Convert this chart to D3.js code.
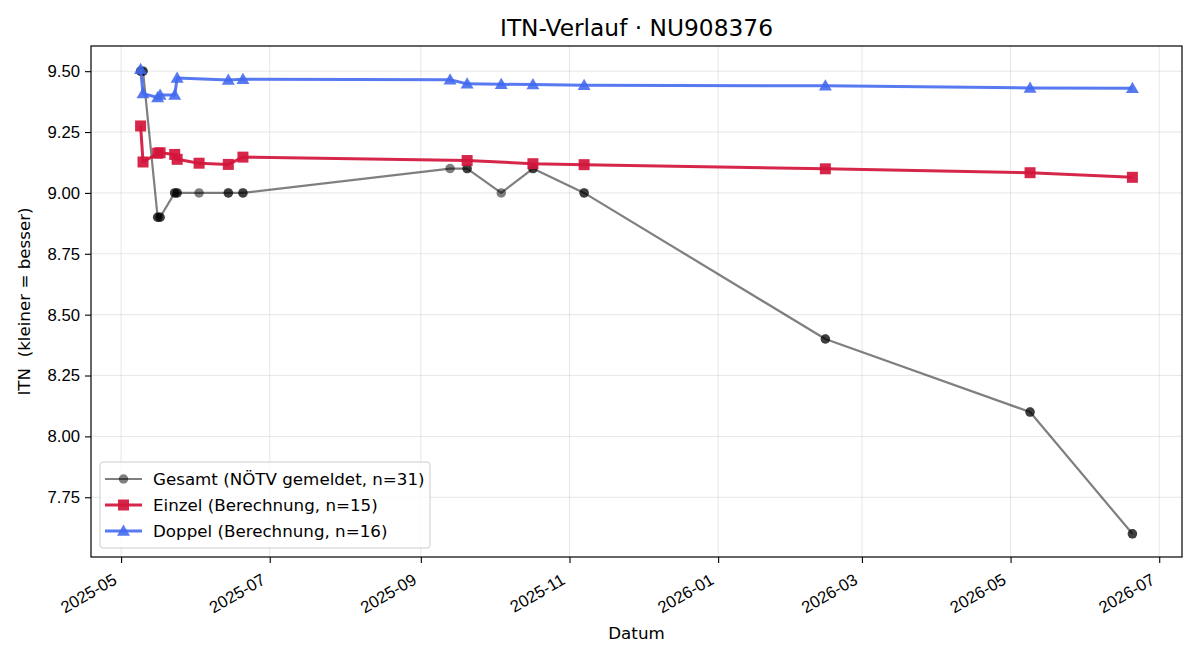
<!DOCTYPE html>
<html>
<head>
<meta charset="utf-8">
<script src="https://cdn.jsdelivr.net/npm/d3@7"></script>
<style>
  body { margin: 0; background: #fff; }
  svg { font-family: "DejaVu Sans", sans-serif; }
</style>
</head>
<body>
<svg id="chart" width="1200" height="660"></svg>
<script>
// Gesamt (NÖTV gemeldet) - one entry per match
var gesamtDates = [
  "2025-05-09", "2025-05-09", "2025-05-10", "2025-05-10",
  "2025-05-16", "2025-05-16", "2025-05-17", "2025-05-17",
  "2025-05-23", "2025-05-23", "2025-05-24", "2025-05-24",
  "2025-06-02", "2025-06-14", "2025-06-14", "2025-06-20", "2025-06-20",
  "2025-09-13", "2025-09-20", "2025-09-20", "2025-10-04",
  "2025-10-17", "2025-10-17", "2025-11-07", "2025-11-07",
  "2026-02-14", "2026-02-14", "2026-05-09", "2026-05-09",
  "2026-06-20", "2026-06-20"
];
var gesamtValues = [
  9.50, 9.50, 9.50, 9.50,
  8.90, 8.90, 8.90, 8.90,
  9.00, 9.00, 9.00, 9.00,
  9.00, 9.00, 9.00, 9.00, 9.00,
  9.10, 9.10, 9.10, 9.00,
  9.10, 9.10, 9.00, 9.00,
  8.40, 8.40, 8.10, 8.10,
  7.60, 7.60
];

var einzelDates = [
  "2025-05-09", "2025-05-10", "2025-05-16", "2025-05-17", "2025-05-23",
  "2025-05-24", "2025-06-02", "2025-06-14", "2025-06-20", "2025-09-20",
  "2025-10-17", "2025-11-07", "2026-02-14", "2026-05-09", "2026-06-20"
];
var einzelValues = [
  9.275, 9.127, 9.163, 9.165, 9.158,
  9.138, 9.122, 9.117, 9.147, 9.133,
  9.120, 9.116, 9.099, 9.083, 9.064
];

var doppelDates = [
  "2025-05-09", "2025-05-10", "2025-05-16", "2025-05-17", "2025-05-23",
  "2025-05-24", "2025-06-14", "2025-06-20", "2025-09-13", "2025-09-20",
  "2025-10-04", "2025-10-17", "2025-11-07", "2026-02-14", "2026-05-09",
  "2026-06-20"
];
var doppelValues = [
  9.508, 9.408, 9.392, 9.402, 9.402,
  9.472, 9.464, 9.467, 9.465, 9.448,
  9.446, 9.445, 9.442, 9.440, 9.431,
  9.430
];

var yTicks = [7.75, 8.00, 8.25, 8.50, 8.75, 9.00, 9.25, 9.50];

var parse = d3.utcParse("%Y-%m-%d");
function zip(dates, values) {
  return dates.map(function(d, i) { return { date: parse(d), value: values[i] }; });
}

var series = [
  { name: "Gesamt (NÖTV gemeldet, n=31)", data: zip(gesamtDates, gesamtValues),
    color: "#000", opacity: 0.5, width: 2.2, marker: "circle", size: 9.5 },
  { name: "Einzel (Berechnung, n=15)", data: zip(einzelDates, einzelValues),
    color: "#d2153c", opacity: 0.92, width: 3, marker: "square", size: 11 },
  { name: "Doppel (Berechnung, n=16)", data: zip(doppelDates, doppelValues),
    color: "#4168ef", opacity: 0.88, width: 3, marker: "triangle", size: 11 }
];

var FS = 16.7;
var margin = { top: 46, right: 18, bottom: 103, left: 91 };
var width = 1200 - margin.left - margin.right;
var height = 660 - margin.top - margin.bottom;

var svg = d3.select("#chart");
var g = svg.append("g").attr("transform", "translate(" + margin.left + "," + margin.top + ")");

// domains padded 5% like matplotlib
var all = [];
series.forEach(function(s) { all = all.concat(s.data); });
var xExt = d3.extent(all, function(d) { return d.date; });
var xPad = (xExt[1] - xExt[0]) * 0.05;
var yExt = d3.extent(all, function(d) { return d.value; });
var yPad = (yExt[1] - yExt[0]) * 0.05;

var x = d3.scaleUtc()
  .domain([new Date(+xExt[0] - xPad), new Date(+xExt[1] + xPad)])
  .range([0, width]);
var y = d3.scaleLinear()
  .domain([yExt[0] - yPad, yExt[1] + yPad])
  .range([height, 0]);

var xTicks = x.ticks(d3.utcMonth.every(2));

// grid
g.append("g").selectAll("line").data(xTicks).enter().append("line")
  .attr("x1", function(d) { return x(d); }).attr("x2", function(d) { return x(d); })
  .attr("y1", 0).attr("y2", height)
  .attr("stroke", "#b0b0b0").attr("stroke-opacity", 0.3).attr("stroke-width", 1);
g.append("g").selectAll("line").data(yTicks).enter().append("line")
  .attr("x1", 0).attr("x2", width)
  .attr("y1", function(d) { return y(d); }).attr("y2", function(d) { return y(d); })
  .attr("stroke", "#b0b0b0").attr("stroke-opacity", 0.3).attr("stroke-width", 1);

// axes
var xAxis = g.append("g")
  .attr("transform", "translate(0," + height + ")")
  .call(d3.axisBottom(x).tickValues(xTicks).tickFormat(d3.utcFormat("%Y-%m")).tickSizeOuter(0).tickSize(6).tickPadding(6));
// rotated labels, right edge of rotated box at the tick (like autofmt_xdate)
xAxis.selectAll(".tick text")
  .attr("font-size", FS).attr("fill", "#000")
  .attr("text-anchor", "end")
  .attr("x", 0).attr("y", 0).attr("dy", "0.76em")
  .attr("transform", "translate(-10,15) rotate(-30)");

var yAxis = g.append("g")
  .call(d3.axisLeft(y).tickValues(yTicks).tickFormat(d3.format(".2f")).tickSizeOuter(0).tickSize(6).tickPadding(5));
yAxis.selectAll("text").attr("font-size", FS).attr("fill", "#000");

[xAxis, yAxis].forEach(function(a) {
  a.select(".domain").remove();
  a.selectAll(".tick line").attr("stroke", "#000").attr("stroke-width", 1.1);
});

g.append("rect")
  .attr("width", width).attr("height", height)
  .attr("fill", "none").attr("stroke", "#000").attr("stroke-width", 1.2);

// symbols
var symType = { circle: d3.symbolCircle, square: d3.symbolSquare, triangle: d3.symbolTriangle };
function symbolPath(s) {
  var area;
  if (s.marker === "circle") area = Math.PI * (s.size / 2) * (s.size / 2);
  else if (s.marker === "square") area = s.size * s.size;
  else area = s.size * s.size * 0.6;
  return d3.symbol().type(symType[s.marker]).size(area)();
}

var line = d3.line()
  .x(function(d) { return x(d.date); })
  .y(function(d) { return y(d.value); });

series.forEach(function(s) {
  var sg = g.append("g");
  sg.append("path")
    .datum(s.data)
    .attr("d", line)
    .attr("fill", "none")
    .attr("stroke", s.color)
    .attr("stroke-opacity", s.opacity)
    .attr("stroke-width", s.width)
    .attr("stroke-linejoin", "round");
  sg.selectAll(".pt").data(s.data).enter().append("path")
    .attr("class", "pt")
    .attr("d", symbolPath(s))
    .attr("transform", function(d) {
      var dy = s.marker === "triangle" ? 1 : 0;
      return "translate(" + x(d.date) + "," + (y(d.value) + dy) + ")";
    })
    .attr("fill", s.color)
    .attr("fill-opacity", s.opacity);
});

// legend
var lg = g.append("g").attr("transform", "translate(9," + (height - 95) + ")");
lg.append("rect")
  .attr("width", 330).attr("height", 86).attr("rx", 3)
  .attr("fill", "#fff").attr("fill-opacity", 0.8)
  .attr("stroke", "#cccccc").attr("stroke-width", 1);
series.forEach(function(s, i) {
  var yy = 17 + i * 26;
  lg.append("line")
    .attr("x1", 5).attr("x2", 42).attr("y1", yy).attr("y2", yy)
    .attr("stroke", s.color).attr("stroke-opacity", s.opacity).attr("stroke-width", s.width);
  lg.append("path")
    .attr("d", symbolPath(s))
    .attr("transform", "translate(23.5," + (yy + (s.marker === "triangle" ? 1 : 0)) + ")")
    .attr("fill", s.color).attr("fill-opacity", s.opacity);
  lg.append("text")
    .attr("x", 53).attr("y", yy).attr("dy", "0.35em")
    .attr("font-size", FS).attr("fill", "#000")
    .text(s.name);
});

// titles
svg.append("text")
  .attr("x", margin.left + width / 2).attr("y", 36)
  .attr("text-anchor", "middle").attr("font-size", 23.3).attr("fill", "#000")
  .text("ITN-Verlauf · NU908376");
svg.append("text")
  .attr("x", margin.left + width / 2).attr("y", 639)
  .attr("text-anchor", "middle").attr("font-size", FS).attr("fill", "#000")
  .text("Datum");
svg.append("text")
  .attr("transform", "translate(30," + (margin.top + height / 2) + ") rotate(-90)")
  .attr("text-anchor", "middle").attr("font-size", FS).attr("fill", "#000")
  .style("white-space", "pre")
  .text("ITN  (kleiner = besser)");
</script>
</body>
</html>
